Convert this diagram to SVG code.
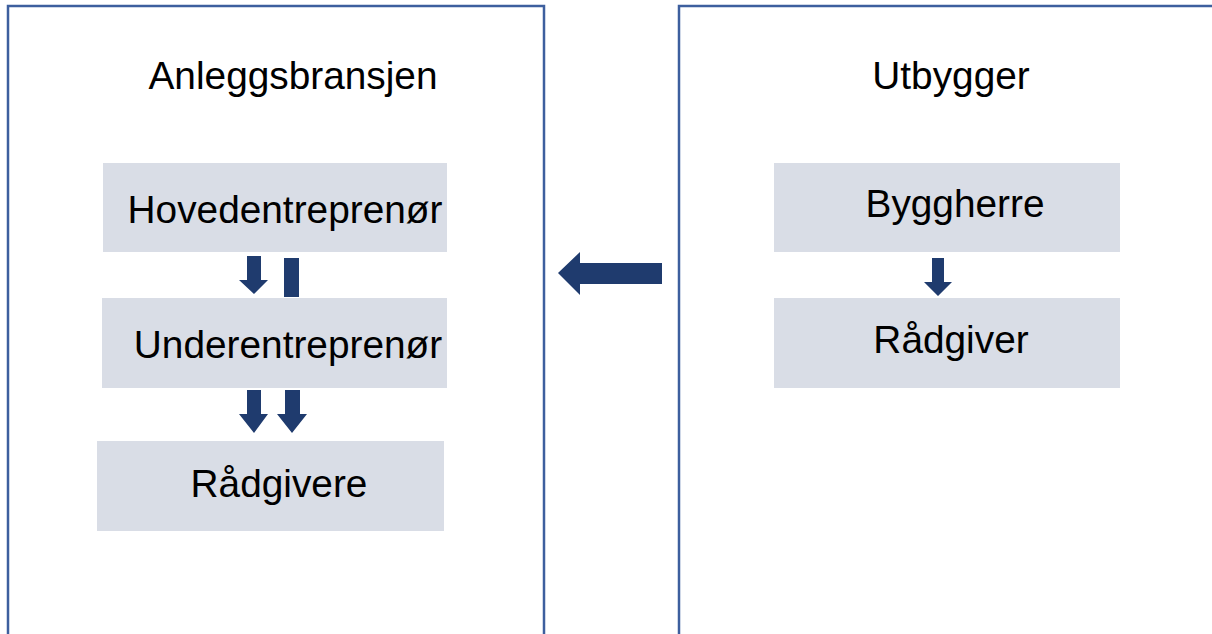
<svg xmlns="http://www.w3.org/2000/svg" width="1212" height="634" viewBox="0 0 1212 634">
<style>
.frame{fill:#fff;stroke:#3d5f9e;stroke-width:2.5}
.box{fill:#d9dde6}
.t{font-family:"Liberation Sans",Arial,sans-serif;font-size:38.8px;fill:#000;text-anchor:middle}
.arr{fill:#1f3b6e}
</style>
<rect width="1212" height="634" fill="#fff"/>
<g id="frame-anlegg"><rect class="frame" x="8" y="6" width="536" height="640"/><text class="t" x="293" y="89">Anleggsbransjen</text></g>
<g id="frame-utbygger"><rect class="frame" x="679" y="6" width="560" height="640"/><text class="t" x="951" y="89">Utbygger</text></g>
<g id="hovedentreprenor"><rect class="box" x="103" y="163" width="344" height="89"/><text class="t" x="285" y="223">Hovedentreprenør</text></g>
<g id="underentreprenor"><rect class="box" x="102" y="298" width="345" height="90"/><text class="t" x="288" y="358">Underentreprenør</text></g>
<g id="radgivere"><rect class="box" x="97" y="441" width="347" height="90"/><text class="t" x="279" y="497">Rådgivere</text></g>
<g id="byggherre"><rect class="box" x="774" y="163" width="346" height="89"/><text class="t" x="955" y="217">Byggherre</text></g>
<g id="radgiver"><rect class="box" x="774" y="298" width="346" height="90"/><text class="t" x="951" y="353">Rådgiver</text></g>
<g id="connectors">
<polygon class="arr" points="247,256 261,256 261,280 268,280 254,294 239,280 247,280"/>
<rect class="arr" x="284" y="258" width="15" height="39"/>
<polygon class="arr" points="247,390 261,390 261,414 268,414 254,433 239,414 247,414"/>
<polygon class="arr" points="285,390 300,390 300,414 307,414 292,433 277,414 285,414"/>
<polygon class="arr" points="662,263 662,284 580,284 580,295 558,273 580,252 580,263"/>
<polygon class="arr" points="932,258 944,258 944,282 952,282 938,296 924,282 932,282"/>
</g>
</svg>
